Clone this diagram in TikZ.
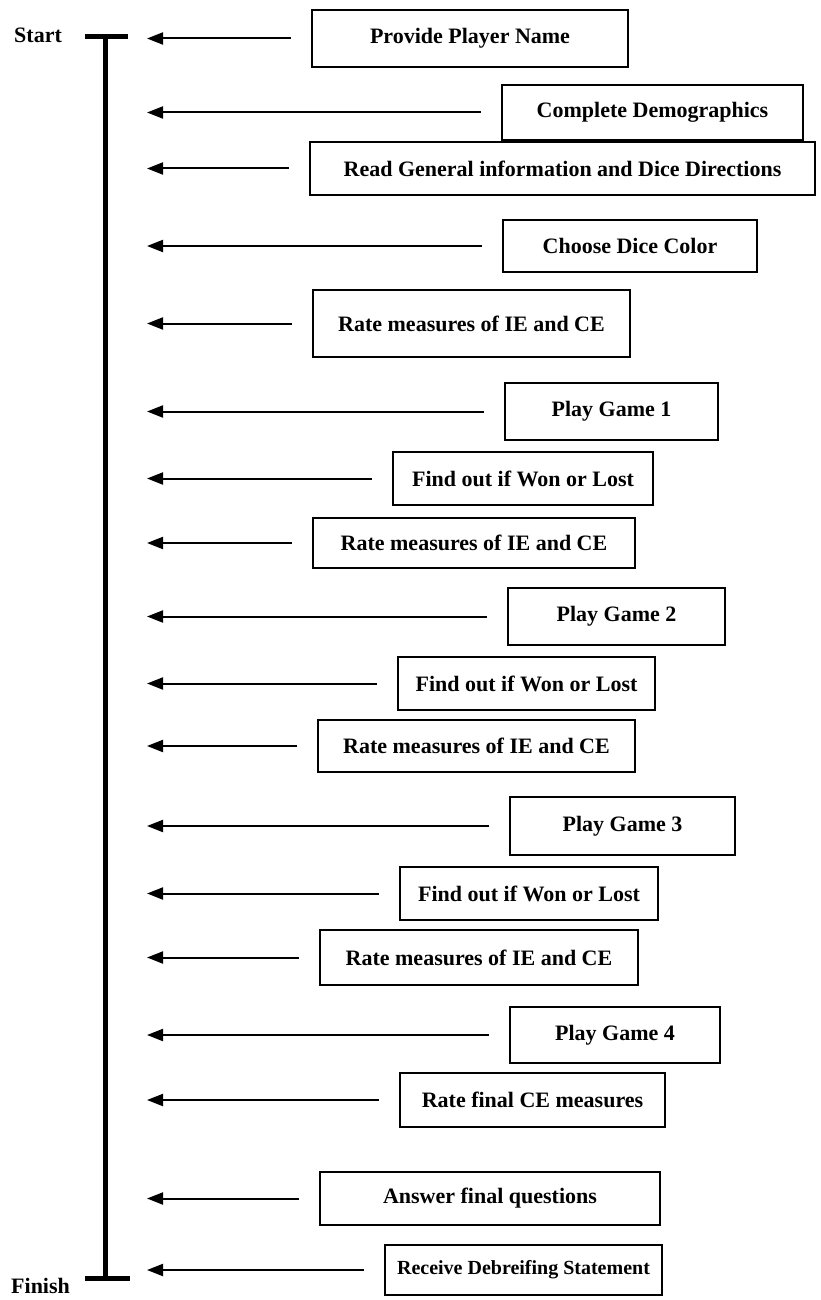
\documentclass[tikz,border=0pt]{standalone}
\usepackage{fontspec}
\setmainfont{Liberation Serif}
\usetikzlibrary{arrows.meta}
\begin{document}
\begin{tikzpicture}[x=1pt,y=-1pt,
  stepbox/.style={draw, line width=1.8pt, inner sep=0pt, font=\fontsize{22}{25}\selectfont\bfseries},
  arr/.style={line width=2pt, -{Triangle[length=16pt,width=12pt]}},
  lbl/.style={font=\fontsize{22}{25}\selectfont\bfseries, inner sep=0pt},
  bar/.style={line width=5pt}]
\useasboundingbox (0,0) rectangle (820,1300);
% timeline
\coordinate (top) at (105,37);
\coordinate (bot) at (105,1278);
\coordinate (topL) at (85,37);
\coordinate (topR) at (128,37);
\coordinate (botL) at (85,1278);
\coordinate (botR) at (130,1278);
\draw[bar] (top) -- (bot);
\draw[bar] (topL) -- (topR);
\draw[bar] (botL) -- (botR);
\node[lbl, anchor=west] (start) at (14,35) {Start};
\node[lbl, anchor=west] (finish) at (11,1286) {Finish};
% boxes: name, left, right, top, bottom, text
\foreach \n/\l/\r/\t/\b/\txt in {
  b1/312/628/10/67/{Provide Player Name},
  b2/502/803/85/140/{Complete Demographics},
  b3/310/815/142/195/{Read General information and Dice Directions},
  b4/503/757/220/272/{Choose Dice Color},
  b5/313/630/290/357/{Rate measures of IE and CE},
  b6/505/718/383/440/{Play Game 1},
  b7/393/653/452/505/{Find out if Won or Lost},
  b8/313/635/518/568/{Rate measures of IE and CE},
  b9/508/725/588/645/{Play Game 2},
  b10/398/655/657/710/{Find out if Won or Lost},
  b11/318/635/720/772/{Rate measures of IE and CE},
  b12/510/735/797/855/{Play Game 3},
  b13/400/658/867/920/{Find out if Won or Lost},
  b14/320/638/930/985/{Rate measures of IE and CE},
  b15/510/720/1007/1063/{Play Game 4},
  b16/400/665/1073/1127/{Rate final CE measures},
  b17/320/660/1172/1225/{Answer final questions},
  b18/385/662/1245/1295/{\fontsize{20}{24}\selectfont Receive Debreifing Statement}}{
  \node[stepbox, minimum width={\r-\l}, minimum height={\b-\t}]
    (\n) at ({(\l+\r)/2},{(\t+\b)/2}) {\txt};
  \coordinate (\n tip) at (147,{(\t+\b)/2});
  \draw[arr] ([xshift=-20pt]\n.west) -- (\n tip);
}
\end{tikzpicture}
\end{document}
